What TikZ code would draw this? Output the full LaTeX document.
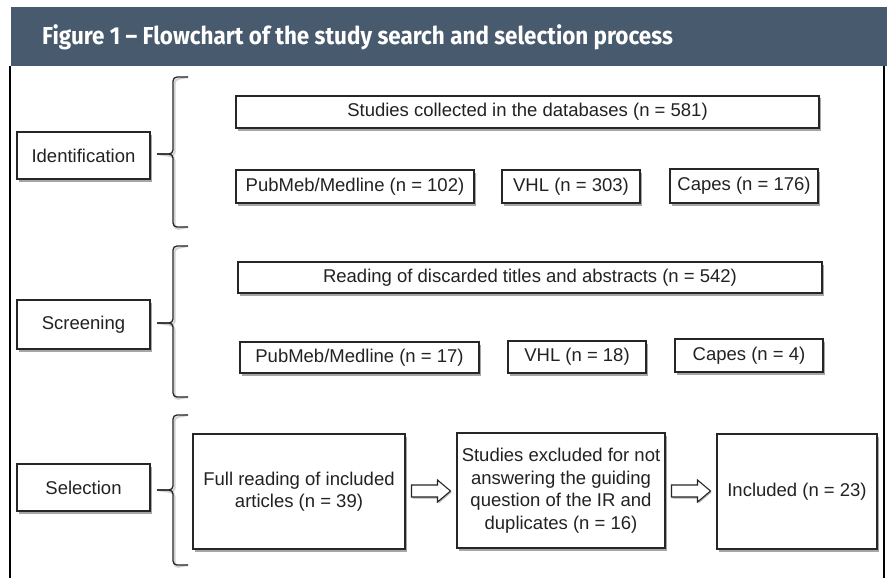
\documentclass[tikz,border=0pt]{standalone}
\usepackage{fontspec}
\setmainfont{Liberation Sans}
\newfontfamily\titlefont{Fira Sans}
\usetikzlibrary{shadows,calc}
\definecolor{barcol}{HTML}{485A6E}
\definecolor{txt}{HTML}{222222}
\newcommand\drawbrace[4]{% name, top, mid, bottom
  \coordinate (#1t) at (188,#2);
  \coordinate (#1m) at (157,#3);
  \coordinate (#1b) at (188,#4);
  \draw[braceshadow, shift={(1.5,2.5)}] (#1t) -- (173,#2) -- (173,#3) -- (#1m) (#1m) -- (173,#3) -- (173,#4) -- (#1b);
  \draw[bracestyle] (#1t) -- (173,#2) -- (173,#3) -- (#1m);
  \draw[bracestyle] (#1m) -- (173,#3) -- (173,#4) -- (#1b);
}
\newcommand\blockarrow[1]{% centre coordinate
  \draw[bigarrow] ($(#1)+(-19.5,6)$) -- ++(26,0) -- ++(0,5) -- ++(13,-11)
    -- ++(-13,-11) -- ++(0,5) -- ++(-26,0) -- cycle;
}
\begin{document}
\begin{tikzpicture}[x=1pt,y=-1pt,
  box/.style={draw=black!85, line width=1.1pt, fill=white, inner sep=0pt,
    text=txt, font=\fontsize{18.5}{22.5}\selectfont, align=center,
    drop shadow={shadow xshift=1.5pt, shadow yshift=-2.5pt, opacity=0.35, fill=black}},
  bigarrow/.style={draw=black!85, line width=1.1pt, fill=white, line join=miter,
    drop shadow={shadow xshift=1pt, shadow yshift=-1.5pt, opacity=0.3, fill=black}},
  bracestyle/.style={draw=black!85, line width=1.3pt, rounded corners=4pt},
  braceshadow/.style={draw=black, opacity=0.18, line width=2pt, rounded corners=4pt},
  frameline/.style={draw=black, line width=1.2pt}
]
\useasboundingbox (0,0) rectangle (887,578);
\fill[white] (0,0) rectangle (887,578);
% title bar
\fill[barcol] (11,7) rectangle (887,66);
\node[anchor=base west, inner sep=0pt, text=white,
  font=\titlefont\bfseries\fontsize{24.5}{28}\selectfont] (title) at (42,45)
  {\scalebox{0.917}[1]{Figure 1 – Flowchart of the study search and selection process}};
\draw[frameline] (10,66) -- (10,578);
\draw[frameline] (884,66) -- (884,578);

% stage labels
\node[box, minimum width=133pt, minimum height=47pt] (id)  at (83.5,155.5) {Identification};
\node[box, minimum width=133pt, minimum height=49pt] (scr) at (83.5,324.5) {Screening};
\node[box, minimum width=133pt, minimum height=47pt] (sel) at (83.5,487.5) {Selection};

% braces
\drawbrace{b1}{77}{154}{227}
\drawbrace{b2}{246}{323}{397}
\drawbrace{b3}{415}{490}{565}

% identification
\node[box, minimum width=583pt, minimum height=32pt] (s1) at (527.5,112) {Studies collected in the databases (n = 581)};
\node[box, minimum width=238pt, minimum height=33pt] (p1) at (355,186.5) {PubMeb/Medline (n = 102)};
\node[box, minimum width=138pt, minimum height=33pt] (v1) at (571,186.5) {VHL (n = 303)};
\node[box, minimum width=148pt, minimum height=34pt] (c1) at (744,186) {Capes (n = 176)};

% screening
\node[box, minimum width=584pt, minimum height=31pt] (s2) at (530,277.5) {Reading of discarded titles and abstracts (n = 542)};
\node[box, minimum width=239pt, minimum height=31pt] (p2) at (359.5,357.5) {PubMeb/Medline (n = 17)};
\node[box, minimum width=138pt, minimum height=32pt] (v2) at (577,357) {VHL (n = 18)};
\node[box, minimum width=148pt, minimum height=33pt] (c2) at (749,355.5) {Capes (n = 4)};

% selection
\node[box, minimum width=212pt, minimum height=115pt] (f) at (299,491.5) {Full reading of included\\articles (n = 39)};
\node[box, minimum width=208pt, minimum height=115pt] (e) at (561,490.5) {Studies excluded for not\\answering the guiding\\question of the IR and\\duplicates (n = 16)};
\node[box, minimum width=160pt, minimum height=115pt] (inc) at (797,491.5) {Included (n = 23)};

\coordinate (a1) at ($(f.east)!0.5!(e.west)$);
\coordinate (a2) at ($(e.east)!0.5!(inc.west)$);
\blockarrow{a1}
\blockarrow{a2}
\end{tikzpicture}
\end{document}
